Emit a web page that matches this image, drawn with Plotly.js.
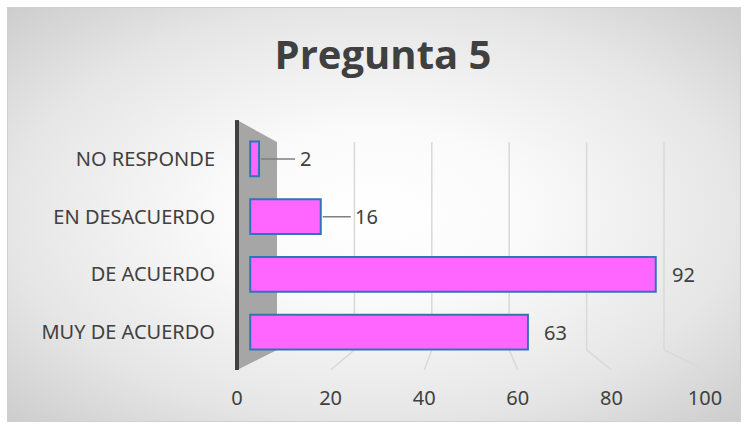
<!DOCTYPE html>
<html><head><meta charset="utf-8">
<script src="https://cdn.plot.ly/plotly-3.0.1.min.js"></script>
<style>
html,body{margin:0;padding:0;width:747px;height:428px;overflow:hidden;background:#fff;}
#frame{position:absolute;left:7px;top:7px;width:732px;height:413px;border:1px solid #d0d0d0;
background:radial-gradient(ellipse at 50% 50%, #ffffff 0%, #fafafa 30%, #e6e6e6 70%, #cdcdcd 100%);}
#chart{position:absolute;left:0;top:0;width:747px;height:428px;}
</style></head>
<body>
<div id="frame"></div>
<div id="chart"></div>
<script>
// ---- data ----
const categories = ["MUY DE ACUERDO", "DE ACUERDO", "EN DESACUERDO", "NO RESPONDE"];
const values = [63, 92, 16, 2];
const tickValues = [0, 20, 40, 60, 80, 100];
const titleText = "Pregunta 5";

// ---- layout helpers (3D-look planes: bars, front labels, back grid) ----
const barDomain = [0, 0.9701];
const barRange = [-3, 100];
const frontDomain = [0, 1];
const backDomain = [0.0855, 0.9124];
const valRange = [0, 100];
const gridBottom = 0.048, gridTop = 0.948;
const floorFront = -0.039, wallTop = 1.043;
function toPaper(domain, range, v) {
  return domain[0] + (v - range[0]) / (range[1] - range[0]) * (domain[1] - domain[0]);
}

const font = "Noto Sans, sans-serif";
const textColor = "#404040";

const trace = {
  type: "bar", orientation: "h",
  y: categories, x: values,
  xaxis: "x", yaxis: "y",
  width: 0.6,
  marker: {color: "#ff66ff", line: {color: "#2e75b6", width: 2}},
  hoverinfo: "none"
};

const shapes = [];
// back wall
shapes.push({type: "path", xref: "paper", yref: "paper",
  path: `M 0 ${floorFront} L 0 ${wallTop} L ${backDomain[0]} ${gridTop} L ${backDomain[0]} ${gridBottom} Z`,
  fillcolor: "#a6a6a6", line: {width: 0}, layer: "below"});
// back grid lines and floor lines
tickValues.filter(v => v > 0).forEach(v => {
  const xb = toPaper(backDomain, valRange, v);
  const xf = toPaper(frontDomain, valRange, v);
  shapes.push({type: "line", xref: "paper", yref: "paper", x0: xb, x1: xb, y0: gridBottom, y1: gridTop,
    line: {color: "#d9d9d9", width: 1.5}, layer: "below"});
  shapes.push({type: "line", xref: "paper", yref: "paper", x0: xb, x1: xf, y0: gridBottom, y1: floorFront,
    line: {color: "#d9d9d9", width: 1.5}, layer: "below"});
});
// dark wall edge
shapes.push({type: "line", xref: "paper", yref: "paper", x0: 0, x1: 0, y0: floorFront, y1: wallTop,
  line: {color: "#404040", width: 4}});

const annotations = values.map((v, i) => {
  const small = v < 30;
  return {
    x: v, y: categories[i], xref: "x", yref: "y",
    text: String(v),
    font: {family: font, size: 20, color: textColor},
    showarrow: small, arrowhead: 0, arrowwidth: 1.5, arrowcolor: "#7f7f7f",
    ax: small ? 46 : 0, ay: 0, standoff: 2, borderpad: small ? 4 : 1,
    xanchor: small ? "center" : "left", xshift: small ? 0 : 14
  };
});

const layout = {
  width: 747, height: 428,
  paper_bgcolor: "rgba(0,0,0,0)", plot_bgcolor: "rgba(0,0,0,0)",
  margin: {l: 237, r: 42, t: 130, b: 67},
  showlegend: false,
  title: {text: titleText, xref: "container", yref: "container", x: 0.5127, xanchor: "center", y: 0.872, yanchor: "middle",
          font: {family: "Open Sans, sans-serif", size: 40, color: textColor, weight: 700}},
  xaxis: {domain: barDomain, range: barRange, anchor: "y", showgrid: false, zeroline: false,
          showline: false, showticklabels: false, ticks: ""},
  xaxis2: {domain: frontDomain, range: valRange, anchor: "y", tickvals: tickValues,
           ticktext: tickValues.map(String), showgrid: false, zeroline: false, showline: false,
           ticks: "outside", ticklen: 19, tickcolor: "rgba(0,0,0,0)",
           tickfont: {family: font, size: 20, color: textColor}},
  yaxis: {categoryorder: "array", categoryarray: categories, range: [-0.5, 3.5], anchor: "x",
          showgrid: false, zeroline: false, showline: false, ticks: "outside", ticklen: 17,
          tickcolor: "rgba(0,0,0,0)",
          tickfont: {family: font, size: 20, color: textColor}},
  shapes: shapes,
  annotations: annotations
};

// an empty trace to materialise the label axis
const labelTrace = {type: "scatter", x: [], y: [], xaxis: "x2", yaxis: "y", hoverinfo: "none", showlegend: false};

Plotly.newPlot("chart", [trace, labelTrace], layout, {staticPlot: true});
</script>
</body></html>
